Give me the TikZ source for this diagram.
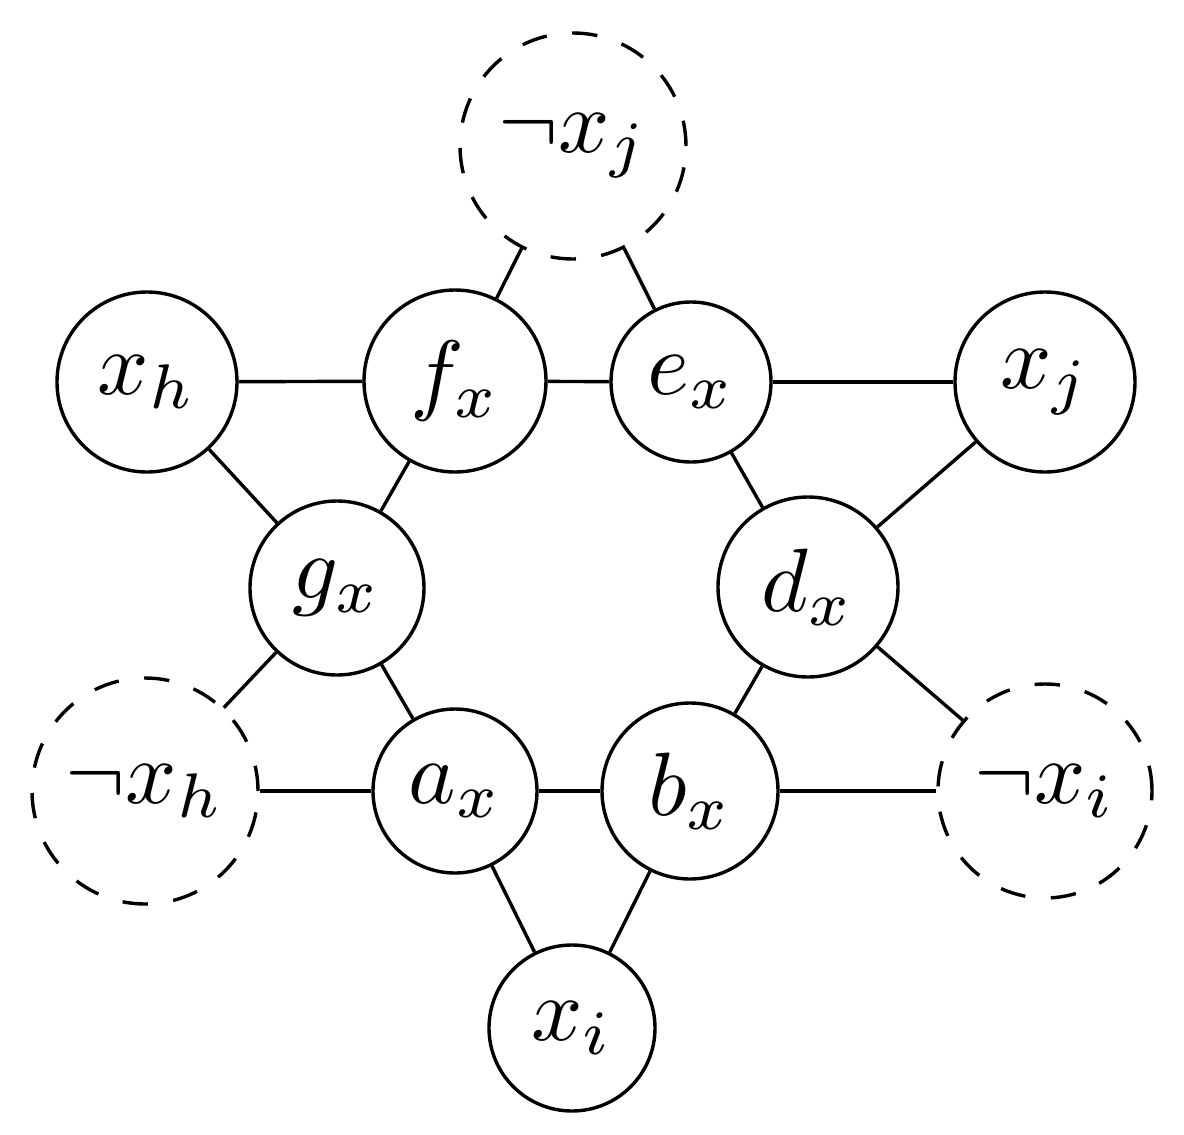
\documentclass[tikz,border=0pt]{standalone}
\usepackage{graphicx}
\newcommand{\vlab}[1]{\scalebox{4.5}{$#1$}}
\begin{document}
\begin{tikzpicture}[x=0.5pt,y=-0.5pt,
  vtx/.style={circle, draw, line width=1.7pt, inner sep=0pt},
  negvtx/.style={vtx, dash pattern=on 12.75pt off 12.75pt},
  edge/.style={line width=1.7pt}]
\useasboundingbox (0,0) rectangle (1184,1135);
\node[negvtx, minimum size=113pt] (nxj) at (573,146) {\vlab{\neg x_j}};
\node[vtx, minimum size=90pt] (xh) at (147,382) {\vlab{x_h}};
\node[vtx, minimum size=91pt] (fx) at (455,381) {\vlab{f_x}};
\node[vtx, minimum size=80pt] (ex) at (691,382) {\vlab{e_x}};
\node[vtx, minimum size=90pt] (xj) at (1045,382) {\vlab{x_j}};
\node[vtx, minimum size=87pt] (gx) at (337,588) {\vlab{g_x}};
\node[vtx, minimum size=90pt] (dx) at (808,587) {\vlab{d_x}};
\node[negvtx, minimum size=113pt] (nxh) at (145,791) {\vlab{\neg x_h}};
\node[vtx, minimum size=82pt] (ax) at (455,791) {\vlab{a_x}};
\node[vtx, minimum size=88pt] (bx) at (690,791) {\vlab{b_x}};
\node[negvtx, minimum size=107pt] (nxi) at (1045,791) {\vlab{\neg x_i}};
\node[vtx, minimum size=83pt] (xi) at (572,1028) {\vlab{x_i}};
\draw[edge] (xh) -- (fx);
\draw[edge] (fx) -- (ex);
\draw[edge] (ex) -- (xj);
\draw[edge] (fx) -- (nxj);
\draw[edge] (ex) -- (nxj);
\draw[edge] (xh) -- (gx);
\draw[edge] (fx) -- (gx);
\draw[edge] (ex) -- (dx);
\draw[edge] (xj) -- (dx);
\draw[edge] (gx) -- (nxh);
\draw[edge] (gx) -- (ax);
\draw[edge] (dx) -- (bx);
\draw[edge] (dx) -- (nxi);
\draw[edge] (nxh) -- (ax);
\draw[edge] (ax) -- (bx);
\draw[edge] (bx) -- (nxi);
\draw[edge] (ax) -- (xi);
\draw[edge] (bx) -- (xi);
\end{tikzpicture}
\end{document}
